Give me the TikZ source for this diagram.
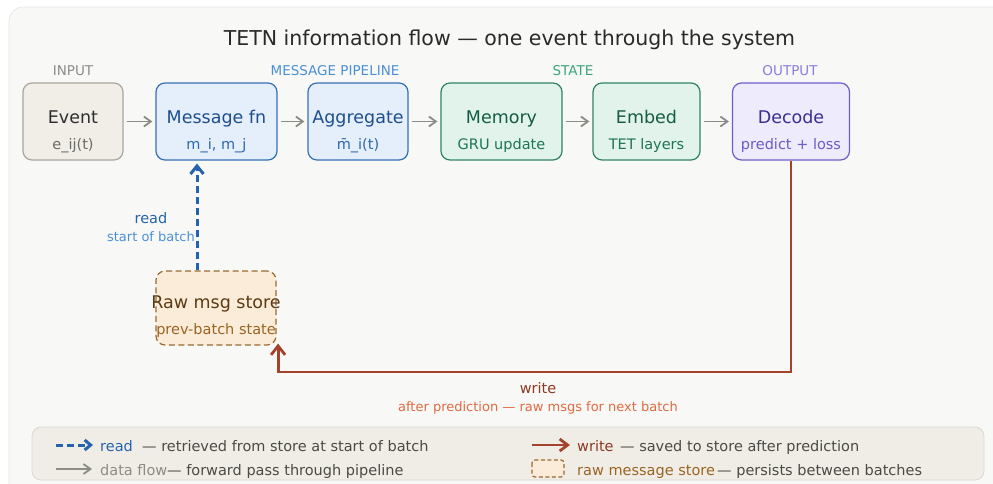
\documentclass[tikz,border=0pt]{standalone}
\usepackage{fontspec}
\setmainfont{DejaVu Sans}
\usetikzlibrary{arrows.meta}
\definecolor{bgc}{HTML}{F8F8F6}
\definecolor{bgline}{HTML}{E8E8E5}
\definecolor{inFill}{HTML}{F1EEE8}
\definecolor{inLine}{HTML}{AAA69E}
\definecolor{inText}{HTML}{2E2E2E}
\definecolor{inSub}{HTML}{6A6A66}
\definecolor{inHead}{HTML}{8C8C88}
\definecolor{msFill}{HTML}{E5EFFB}
\definecolor{msLine}{HTML}{3471B5}
\definecolor{msText}{HTML}{1E4F8C}
\definecolor{msSub}{HTML}{2D67AE}
\definecolor{msHead}{HTML}{4A90D9}
\definecolor{stFill}{HTML}{E1F3EB}
\definecolor{stLine}{HTML}{2F8466}
\definecolor{stText}{HTML}{145C45}
\definecolor{stSub}{HTML}{1D7556}
\definecolor{stHead}{HTML}{3AA57E}
\definecolor{ouFill}{HTML}{EEEBFC}
\definecolor{ouLine}{HTML}{6D5FCB}
\definecolor{ouText}{HTML}{3A2F8E}
\definecolor{ouSub}{HTML}{6A5CC8}
\definecolor{ouHead}{HTML}{8A7DE0}
\definecolor{rwFill}{HTML}{FBECD9}
\definecolor{rwLine}{HTML}{9A6A32}
\definecolor{rwText}{HTML}{5C3A12}
\definecolor{rwSub}{HTML}{9A6422}
\definecolor{flowc}{HTML}{8C8C86}
\definecolor{readc}{HTML}{2563AE}
\definecolor{readSub}{HTML}{4A90D9}
\definecolor{writec}{HTML}{A3432B}
\definecolor{writeText}{HTML}{8A3A22}
\definecolor{writeSub}{HTML}{E06A40}
\definecolor{legFill}{HTML}{F0EDE6}
\definecolor{legLine}{HTML}{DCD8D0}
\definecolor{legText}{HTML}{4A4A46}
\definecolor{titleC}{HTML}{2A2A2A}
\tikzset{
  box/.style={rounded corners=9pt, line width=1.2pt, inner sep=0pt, minimum height=77pt},
  boxtitle/.style={anchor=base, font=\fontsize{17.5}{20}\selectfont, inner sep=0pt},
  boxsub/.style={anchor=base, font=\fontsize{14.5}{17}\selectfont, inner sep=0pt},
  head/.style={anchor=base, font=\fontsize{13.5}{16}\selectfont, inner sep=0pt},
  small/.style={anchor=base, font=\fontsize{13}{15}\selectfont, inner sep=0pt},
  lbl/.style={anchor=base, font=\fontsize{14.5}{17}\selectfont, inner sep=0pt},
  legtxt/.style={anchor=base west, font=\fontsize{14.5}{17}\selectfont, inner sep=0pt},
  flow/.style={draw=flowc, line width=1.8pt, -{Straight Barb[length=7pt,width=10pt]}, shorten >=3pt, shorten <=3pt},
  readarrow/.style={draw=readc, line width=3pt, dash pattern=on 7pt off 4pt, -{Straight Barb[length=8pt,width=13pt]}},
  writearrow/.style={draw=writec, line width=2.8pt, -{Straight Barb[length=9pt,width=14pt]}},
}
\begin{document}
\begin{tikzpicture}[x=1pt,y=-1pt]
\useasboundingbox (0,0) rectangle (993,483);
\fill[white] (0,0) rectangle (993,483);
\begin{scope}
\clip (0,0) rectangle (993,483);
\draw[fill=bgc, draw=bgline, line width=0.8pt, rounded corners=14pt] (9,7) rectangle (1010,500);
\end{scope}

% title
\node[anchor=base, font=\fontsize{20.5}{24}\selectfont, text=titleC, inner sep=0pt] (title) at (509.5,45.7) {TETN information flow — one event through the system};

% headers
\node[head, text=inHead] (hIn) at (73,75) {INPUT};
\node[head, text=msHead] (hMs) at (335,75) {MESSAGE PIPELINE};
\node[head, text=stHead] (hSt) at (573,75) {STATE};
\node[head, text=ouHead] (hOu) at (790,75) {OUTPUT};

% boxes
\node[box, draw=inLine, fill=inFill, minimum width=100pt] (event) at (73,121.5) {};
\node[box, draw=msLine, fill=msFill, minimum width=121pt] (msg) at (216.5,121.5) {};
\node[box, draw=msLine, fill=msFill, minimum width=100pt] (agg) at (358,121.5) {};
\node[box, draw=stLine, fill=stFill, minimum width=121pt] (mem) at (501.5,121.5) {};
\node[box, draw=stLine, fill=stFill, minimum width=107pt] (emb) at (646.5,121.5) {};
\node[box, draw=ouLine, fill=ouFill, minimum width=117pt] (dec) at (791,121.5) {};
\node[box, draw=rwLine, fill=rwFill, dashed, dash pattern=on 6pt off 3.5pt, minimum width=120pt, minimum height=74pt] (store) at (216,308) {};

% box texts
\node[boxtitle, text=inText] (tEvent) at (73,123.3) {Event};
\node[boxsub, text=inSub] (sEvent) at (73,149) {e\_ij(t)};
\node[boxtitle, text=msText] (tMsg) at (216.5,123.3) {Message fn};
\node[boxsub, text=msSub] (sMsg) at (216.5,149) {m\_i, m\_j};
\node[boxtitle, text=msText] (tAgg) at (358,123.3) {Aggregate};
\node[boxsub, text=msSub] (sAgg) at (358,149) {m̄\_i(t)};
\node[boxtitle, text=stText] (tMem) at (501.5,123.3) {Memory};
\node[boxsub, text=stSub] (sMem) at (501.5,149) {GRU update};
\node[boxtitle, text=stText] (tEmb) at (646.5,123.3) {Embed};
\node[boxsub, text=stSub] (sEmb) at (646.5,149) {TET layers};
\node[boxtitle, text=ouText] (tDec) at (791,123.3) {Decode};
\node[boxsub, text=ouSub] (sDec) at (791,149) {predict + loss};
\node[boxtitle, text=rwText] (tStore) at (216,308.5) {Raw msg store};
\node[boxsub, text=rwSub] (sStore) at (216,334) {prev-batch state};

% flow arrows
\draw[flow] (event.east) -- (msg.west);
\draw[flow] (msg.east) -- (agg.west);
\draw[flow] (agg.east) -- (mem.west);
\draw[flow] (mem.east) -- (emb.west);
\draw[flow] (emb.east) -- (dec.west);

% read arrow
\draw[readarrow] ([xshift=-19pt]store.north) -- ([xshift=-19pt,yshift=-3pt]store.north |- msg.south);
\node[lbl, text=readc] (readL) at (151,223.3) {read};
\node[small, text=readSub] (readS) at (151,241.7) {start of batch};

% write arrow
\coordinate (wlevel) at (0,372);
\draw[writearrow] (dec.south) -- (dec.south |- wlevel) -| ([xshift=1.5pt,yshift=2pt]store.south east);
\node[lbl, text=writeText] (writeL) at (538,393.3) {write};
\node[small, text=writeSub] (writeS) at (538,411) {after prediction — raw msgs for next batch};

% legend
\draw[fill=legFill, draw=legLine, line width=0.8pt, rounded corners=9pt] (32,427) rectangle (984,480);
\coordinate (l1a) at (56,445); \coordinate (l1b) at (93,445);
\draw[draw=readc, line width=3pt, dash pattern=on 7pt off 4pt, -{Straight Barb[length=6pt,width=10pt]}] (l1a) -- (l1b);
\node[legtxt, text=readc] (lr) at (100,451) {read};
\node[legtxt, text=legText] (lr2) at (142,451) {— retrieved from store at start of batch};
\coordinate (l2a) at (56,469); \coordinate (l2b) at (92,469);
\draw[draw=flowc, line width=1.8pt, -{Straight Barb[length=7pt,width=10pt]}] (l2a) -- (l2b);
\node[legtxt, text=flowc] (lf) at (100,475) {data flow};
\node[legtxt, text=legText] (lf2) at (167,475) {— forward pass through pipeline};
\coordinate (l3a) at (532,445); \coordinate (l3b) at (570,445);
\draw[draw=writec, line width=2.8pt, -{Straight Barb[length=8pt,width=12pt]}] (l3a) -- (l3b);
\node[legtxt, text=writeText] (lw) at (577,451) {write};
\node[legtxt, text=legText] (lw2) at (620,451) {— saved to store after prediction};
\draw[fill=rwFill, draw=rwLine, line width=1.2pt, dash pattern=on 4pt off 2.5pt, rounded corners=3pt] (532,460) rectangle (564,477);
\node[legtxt, text=rwSub] (ls) at (577,475) {raw message store};
\node[legtxt, text=legText] (ls2) at (717,475) {— persists between batches};
\end{tikzpicture}
\end{document}
